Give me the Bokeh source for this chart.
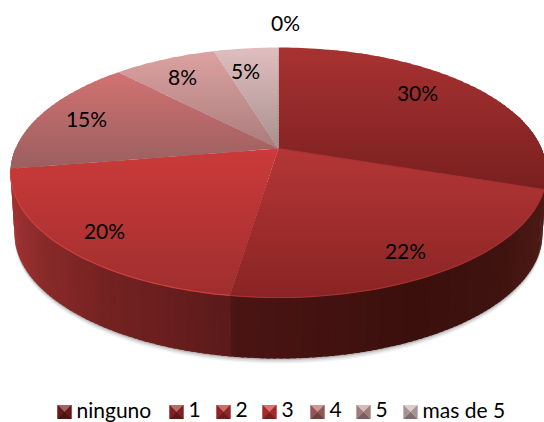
import math
from bokeh.plotting import figure
from bokeh.models import Range1d
from bokeh.core.properties import value
from bokeh.embed import file_html
from bokeh.resources import INLINE

categories = ["ninguno", "1", "2", "3", "4", "5", "mas de 5"]
shares = [30.2, 22.2, 20.0, 15.4, 7.5, 4.7, 0]
labels = ["30%", "22%", "20%", "15%", "8%", "5%", "0%"]

# styling: top surface gradient (upper colour, lower colour) per slice
top_hi = ["#a83232", "#b53636", "#cc3a3a", "#d27272", "#dda2a2", "#e0bebe", "#e8d4d4"]
top_lo = ["#7a1f1f", "#8a2424", "#a02e2e", "#9a5f5f", "#aa7c7c", "#a89090", "#a89090"]
legend_mid = ["#7a2020", "#9a2c2c", "#b03030", "#c83636", "#b86c6c", "#c89c9c", "#d0b8b8"]

W, H = 544, 422
FONT = "Lato"
FS = "21px"
p = figure(width=W, height=H, output_backend="svg", toolbar_location=None,
           x_range=Range1d(0, W), y_range=Range1d(H, 0),
           min_border=0, outline_line_color=None, background_fill_color="white",
           border_fill_color="white")
p.xaxis.visible = False
p.yaxis.visible = False
p.grid.visible = False

CX, CY, A, B, K = 278.0, 148.0, 263.0, 120.4, 0.192
DEPTH, BOTTOM_SCALE = 61.0, 0.985


def proj(t, r=1.0):
    u, v = r * math.sin(t), -r * math.cos(t)
    w = 1 - K * v
    return CX + A * u / w, CY + B * v / w


def hexmix(c1, c2, f):
    a = [int(c1[i:i + 2], 16) for i in (1, 3, 5)]
    b = [int(c2[i:i + 2], 16) for i in (1, 3, 5)]
    return "#%02x%02x%02x" % tuple(round(x + (y - x) * f) for x, y in zip(a, b))


def clip(poly, y, keep_below):
    out = []
    for i in range(len(poly)):
        a, b = poly[i], poly[(i + 1) % len(poly)]
        ia = a[1] >= y if keep_below else a[1] <= y
        ib = b[1] >= y if keep_below else b[1] <= y
        if ia:
            out.append(a)
        if ia != ib:
            f = (y - a[1]) / (b[1] - a[1])
            out.append((a[0] + (b[0] - a[0]) * f, y))
    return out


total = sum(shares)
edges = [0.0]
for s in shares:
    edges.append(edges[-1] + 2 * math.pi * s / total)

# soft shadow below the disc
for grow, alpha in [(5, 0.05), (3.5, 0.07), (2, 0.09), (1, 0.12)]:
    ts = [math.pi * 0.42 + i * math.pi * 1.16 / 120 for i in range(121)]
    xs, ys = [], []
    for t in ts:
        x, y = proj(t)
        xs.append(CX + (x - CX) * BOTTOM_SCALE)
        ys.append(y + DEPTH + grow)
    p.patch(xs, ys, fill_color="#000000", fill_alpha=alpha, line_color=None)

# side wall, as vertical strips that overlap the one before
side_stops = [(10, "#a03232"), (40, "#8a2a2a"), (100, "#762222"), (227, "#5c1a1a"),
              (229, "#4c1414"), (330, "#421210"), (420, "#3a0f0c"), (500, "#3f1310"),
              (544, "#4c1a15")]


def side_colour(x):
    for (x0, c0), (x1, c1) in zip(side_stops, side_stops[1:]):
        if x <= x1:
            return hexmix(c0, c1, max(0.0, (x - x0) / (x1 - x0)))
    return side_stops[-1][1]


n = 170
t0, t1 = math.pi * 0.40, math.pi * 1.5
sx, sy, sc = [], [], []
for i in range(n):
    a, b = t0 + (t1 - t0) * i / n, t0 + (t1 - t0) * (i + 1.6) / n
    xa, ya = proj(a)
    xb, yb = proj(min(b, t1))
    xm, _ = proj(t0 + (t1 - t0) * (i + 0.5) / n)
    bax, bbx = CX + (xa - CX) * BOTTOM_SCALE, CX + (xb - CX) * BOTTOM_SCALE
    sx.append([xa, xb, bbx, bax])
    sy.append([ya, yb, yb + DEPTH, ya + DEPTH])
    sc.append(side_colour(xm))
p.patches(sx, sy, fill_color=sc, line_color=None)

# top surface, in horizontal bands so that each slice carries its gradient
for i, s in enumerate(shares):
    if s == 0:
        continue
    steps = max(6, int(s * 3))
    poly = [(CX, CY)] + [proj(edges[i] + (edges[i + 1] - edges[i]) * j / steps) for j in range(steps + 1)]
    ymin, ymax = min(q[1] for q in poly), max(q[1] for q in poly)
    nb = max(2, int((ymax - ymin) / 3))
    bx, by, bc = [], [], []
    for j in range(nb):
        y0 = ymin + (ymax - ymin) * j / nb
        y1 = ymin + (ymax - ymin) * (j + 1) / nb + 1.5
        band = clip(clip(poly, y0, True), y1, False)
        if len(band) < 3:
            continue
        bx.append([q[0] for q in band])
        by.append([q[1] for q in band])
        bc.append(hexmix(top_hi[i], top_lo[i], (j + 0.5) / nb))
    p.patches(bx, by, fill_color=bc, line_color=None)

# lighter rims: the edge between the first two slices, and the front arcs
x, y = proj(edges[1])
p.line([CX, x], [CY, y], line_color="#a53030", line_width=1.2)
for i, c in [(1, "#a83030"), (2, "#d04040")]:
    ts = [edges[i] + (edges[i + 1] - edges[i]) * j / 50 for j in range(51)]
    pts = [proj(t) for t in ts]
    p.line([q[0] for q in pts], [q[1] for q in pts], line_color=c, line_width=1.2)

# percentage labels
label_x = [417, 405, 104, 86, 182, 245, 285]
label_y = [92, 250, 230, 118, 76, 70, 22]
p.text(label_x, label_y, text=labels, text_font=value(FONT), text_font_size=FS,
       text_color="#000000", text_align="center", text_baseline="middle")

# legend
swatch_x = [57, 169, 216, 262, 310, 356, 403]
SW, LY, TY = 14, 411.5, 409
for x, c, name in zip(swatch_x, legend_mid, categories):
    l, r, t, b = x, x + SW, LY - SW / 2, LY + SW / 2
    m = (l + r) / 2, (t + b) / 2
    p.patch([l, r, r, l], [t, t, b, b], fill_color=c, line_color=None)
    p.patch([l, r, m[0]], [t, t, m[1]], fill_color=hexmix(c, "#ffffff", 0.3), line_color=None)
    p.patch([l, r, m[0]], [b, b, m[1]], fill_color=hexmix(c, "#000000", 0.4), line_color=None)
    p.patch([l, l, m[0]], [t, b, m[1]], fill_color=hexmix(c, "#000000", 0.2), line_color=None)
    p.patch([r, r, m[0]], [t, b, m[1]], fill_color=hexmix(c, "#000000", 0.2), line_color=None)
    p.text([r + 5], [TY], text=[name], text_font=value(FONT), text_font_size=FS,
           text_color="#000000", text_align="left", text_baseline="middle")

open("out.html", "w").write(file_html(p, INLINE))
